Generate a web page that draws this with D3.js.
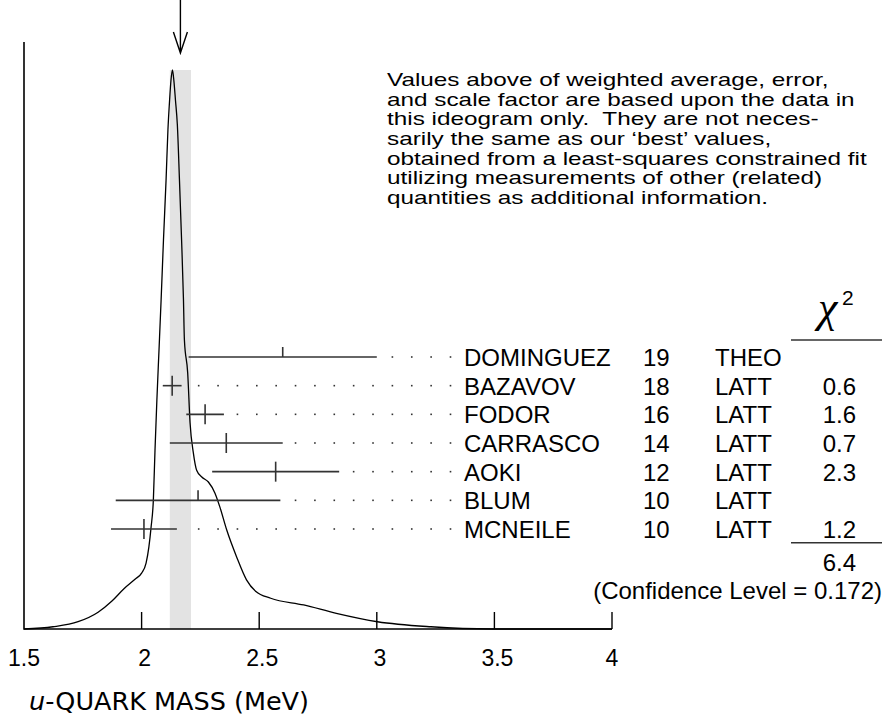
<!DOCTYPE html>
<html>
<head>
<meta charset="utf-8">
<script src="https://cdn.jsdelivr.net/npm/d3@7"></script>
<style>
  body { margin: 0; background: #fff; }
  text { font-family: "Liberation Sans", Arial, Helvetica, sans-serif; fill: #000; }
</style>
</head>
<body>
<div id="chart"></div>
<script>
// measurements in the ideogram, top row first
const experiments = ["DOMINGUEZ", "BAZAVOV", "FODOR", "CARRASCO", "AOKI", "BLUM", "MCNEILE"];
const years = ["19", "18", "16", "14", "12", "10", "10"];
const methods = ["THEO", "LATT", "LATT", "LATT", "LATT", "LATT", "LATT"];
const values = [2.60, 2.13, 2.27, 2.36, 2.57, 2.24, 2.01];
const errors = [0.40, 0.04, 0.08, 0.24, 0.27, 0.35, 0.14];
const usedInFit = [false, true, true, true, true, false, true];
const chi2 = ["", "0.6", "1.6", "0.7", "2.3", "", "1.2"];
const chi2Total = "6.4";
const confidenceLevel = "0.172";

const average = 2.165;
const averageErr = 0.045;

const xTicks = [1.5, 2, 2.5, 3, 3.5, 4];

// ideogram curve (mass, relative height)
const curveMass = [1.500, 1.623, 1.730, 1.815, 1.874, 1.925, 1.972, 2.000, 2.019, 2.031, 2.040, 2.050,
  2.057, 2.065, 2.074, 2.083, 2.093, 2.104, 2.112, 2.119, 2.125, 2.131,
  2.137, 2.144, 2.152, 2.161, 2.170, 2.178, 2.182, 2.196, 2.206, 2.220, 2.234, 2.256, 2.284,
  2.312, 2.333, 2.362, 2.404, 2.446, 2.486, 2.549, 2.689, 2.828, 3.003, 3.230, 3.490, 4.000];
const curveHeight = [0.000, 0.004, 0.013, 0.030, 0.050, 0.072, 0.089, 0.100, 0.118, 0.147, 0.181, 0.231,
  0.320, 0.410, 0.499, 0.589, 0.696, 0.803, 0.893, 0.946, 0.982, 1.000,
  0.982, 0.946, 0.902, 0.803, 0.696, 0.589, 0.517, 0.458, 0.369, 0.315, 0.284, 0.272, 0.263,
  0.243, 0.218, 0.177, 0.129, 0.088, 0.067, 0.055, 0.043, 0.028, 0.013, 0.004, 0.000, 0.000];

const noteLines = [
  "Values above of weighted average, error,",
  "and scale factor are based upon the data in",
  "this ideogram only.  They are not neces-",
  "sarily the same as our \u2018best\u2019 values,",
  "obtained from a least-squares constrained fit",
  "utilizing measurements of other (related)",
  "quantities as additional information."
];

const width = 883, height = 727;
const axisY = 629, axisTop = 42;

const x = d3.scaleLinear().domain([1.5, 4]).range([24, 612]);
const y = d3.scaleLinear().domain([0, 1]).range([axisY, 70]);
const row = d3.scalePoint().domain(experiments).range([357, 529]);

const svg = d3.select("#chart").append("svg")
    .attr("width", width)
    .attr("height", height);

// weighted average band
svg.append("rect")
    .attr("x", x(average - averageErr))
    .attr("y", y(1))
    .attr("width", x(average + averageErr) - x(average - averageErr))
    .attr("height", axisY - y(1))
    .attr("fill", "#e3e3e3");

// arrow on the average
const ax = x(average);
svg.append("path")
    .attr("d", `M${ax},0V53M${ax - 7},32L${ax},53L${ax + 7},32`)
    .attr("fill", "none")
    .attr("stroke", "#000")
    .attr("stroke-width", 1.4);

// axes
svg.append("path")
    .attr("d", `M${x(1.5)},${axisTop}V${axisY}H${x(4)}`)
    .attr("fill", "none")
    .attr("stroke", "#000")
    .attr("stroke-width", 1.6);

svg.selectAll(".tick").data(xTicks.slice(1)).enter().append("line")
    .attr("class", "tick")
    .attr("x1", d => x(d)).attr("x2", d => x(d))
    .attr("y1", axisY).attr("y2", axisY - 17)
    .attr("stroke", "#000")
    .attr("stroke-width", 1.4);

svg.selectAll(".ticklabel").data(xTicks).enter().append("text")
    .attr("class", "ticklabel")
    .attr("x", d => x(d) + (d === 1.5 || d === 4 ? 0 : 3))
    .attr("y", 666)
    .attr("text-anchor", "middle")
    .style("font-size", "23px")
    .text(d => d);

svg.append("text")
    .attr("x", 29)
    .attr("y", 710)
    .style("font-family", "'DejaVu Sans', sans-serif")
    .style("font-size", "25.5px")
    .html('<tspan font-style="italic">u</tspan>-QUARK MASS (MeV)');

// ideogram curve
const points = curveMass.map((m, i) => [m, curveHeight[i]]);
const line = d3.line()
    .x(d => x(d[0]))
    .y(d => y(d[1]))
    .curve(d3.curveMonotoneX);

svg.append("path")
    .datum(points)
    .attr("d", line)
    .attr("fill", "none")
    .attr("stroke", "#000")
    .attr("stroke-width", 1.3);

// measurements
const labelX = 464;
const dotStep = 19.37;
const dotGrid = d3.range(14).map(k => labelX - 13.5 - k * dotStep);

const rows = svg.selectAll(".row").data(experiments).enter().append("g")
    .attr("class", "row")
    .attr("transform", d => `translate(0,${row(d)})`);

rows.append("line")
    .attr("x1", (d, i) => x(values[i] - errors[i]))
    .attr("x2", (d, i) => x(values[i] + errors[i]))
    .attr("stroke", "#333")
    .attr("stroke-width", 1.6);

rows.append("line")
    .attr("x1", (d, i) => x(values[i]))
    .attr("x2", (d, i) => x(values[i]))
    .attr("y1", (d, i) => usedInFit[i] ? 10 : 0)
    .attr("y2", -10)
    .attr("stroke", "#333")
    .attr("stroke-width", 1.6);

rows.each(function (d, i) {
  const end = x(values[i] + errors[i]) + 12.6;
  d3.select(this).selectAll("rect").data(dotGrid.filter(p => p > end)).enter().append("rect")
      .attr("x", p => p - 0.8)
      .attr("y", -0.8)
      .attr("width", 1.6)
      .attr("height", 1.6)
      .attr("fill", "#333");
});

rows.append("text").attr("x", labelX).attr("y", 9).style("font-size", "24px").text(d => d);
rows.append("text").attr("x", 643).attr("y", 9).style("font-size", "24px").text((d, i) => years[i]);
rows.append("text").attr("x", 715).attr("y", 9).style("font-size", "24px").text((d, i) => methods[i]);
rows.append("text").attr("x", 856).attr("y", 9).attr("text-anchor", "end")
    .style("font-size", "24px").text((d, i) => chi2[i]);

// chi-square column
svg.append("text")
    .attr("x", 818).attr("y", 322)
    .style("font-family", "'Liberation Serif', serif")
    .style("font-style", "italic")
    .style("font-size", "44px")
    .text("\u03c7");
svg.append("text")
    .attr("x", 842).attr("y", 305)
    .style("font-size", "21px")
    .text("2");

svg.selectAll(".chiline").data([340, 542.7]).enter().append("line")
    .attr("class", "chiline")
    .attr("x1", 791).attr("x2", 882)
    .attr("y1", d => d).attr("y2", d => d)
    .attr("stroke", "#333")
    .attr("stroke-width", 1.5);

svg.append("text")
    .attr("x", 856).attr("y", 571)
    .attr("text-anchor", "end")
    .style("font-size", "24px")
    .text(chi2Total);

svg.append("text")
    .attr("x", 882).attr("y", 599)
    .attr("text-anchor", "end")
    .style("font-size", "24px")
    .text(`(Confidence Level = ${confidenceLevel})`);

// note, set a little wider than tall like the original
svg.append("g")
    .attr("transform", "translate(387,0) scale(1.28,1)")
    .selectAll("text").data(noteLines).enter().append("text")
    .attr("x", 0)
    .attr("y", (d, i) => 86 + i * 19.7)
    .style("font-size", "19px")
    .style("white-space", "pre")
    .text(d => d);
</script>
</body>
</html>
